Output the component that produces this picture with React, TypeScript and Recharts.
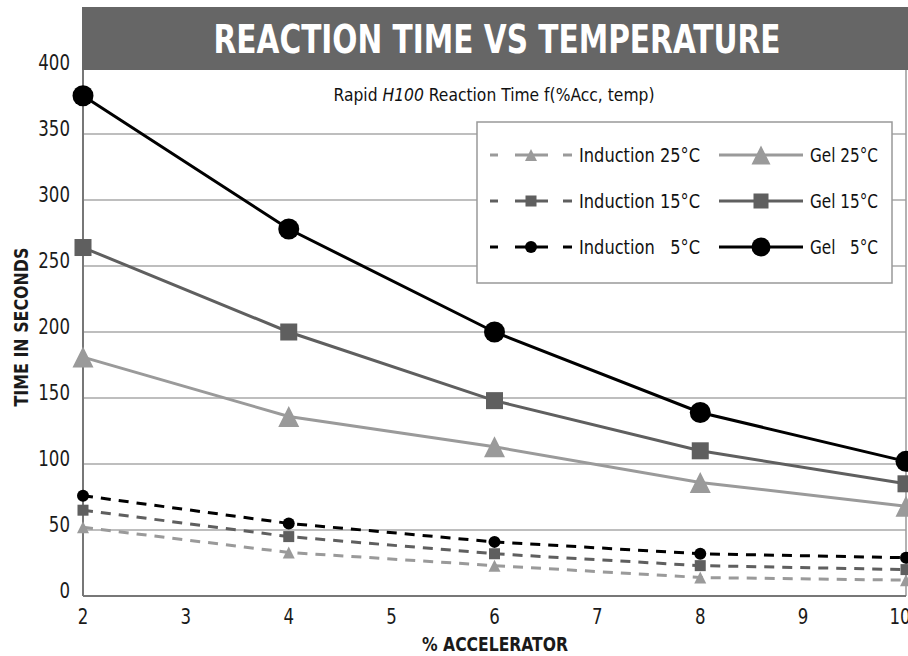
import React from 'react';
import { LineChart, Line, XAxis, YAxis, CartesianGrid, ReferenceLine } from 'recharts';

// % accelerator on the x axis
const accel = [2, 4, 6, 8, 10];

// reaction times in seconds
const ind25 = [52, 33, 23, 14, 12];
const gel25 = [181, 136, 113, 86, 68];
const ind15 = [65, 45, 32, 23, 20];
const gel15 = [264, 200, 148, 110, 85];
const ind5 = [76, 55, 41, 32, 29];
const gel5 = [379, 278, 200, 139, 102];

const xTicks = [2, 3, 4, 5, 6, 7, 8, 9, 10];
const yTicks = [0, 50, 100, 150, 200, 250, 300, 350, 400];

const LIGHT = '#9a9a9a';
const MID = '#5f5f5f';
const DARK = '#000000';
const INK = '#1a1a1a';
// no narrow font installed, so condensed DejaVu gets squeezed a bit more where needed
const NARROW = '"Liberation Sans Narrow", "DejaVu Sans Condensed", sans-serif';

type Shape = 'triangle' | 'square' | 'circle';

const series: {
  key: string;
  name: string;
  color: string;
  dashed: boolean;
  shape: Shape;
  size: number;
  legendWidth: number;
}[] = [
  { key: 'ind25', name: 'Induction 25°C', color: LIGHT, dashed: true, shape: 'triangle', size: 12, legendWidth: 121 },
  { key: 'gel25', name: 'Gel 25°C', color: LIGHT, dashed: false, shape: 'triangle', size: 21, legendWidth: 68 },
  { key: 'ind15', name: 'Induction 15°C', color: MID, dashed: true, shape: 'square', size: 11, legendWidth: 121 },
  { key: 'gel15', name: 'Gel 15°C', color: MID, dashed: false, shape: 'square', size: 17, legendWidth: 68 },
  { key: 'ind5', name: 'Induction   5°C', color: DARK, dashed: true, shape: 'circle', size: 12, legendWidth: 121 },
  { key: 'gel5', name: 'Gel   5°C', color: DARK, dashed: false, shape: 'circle', size: 21, legendWidth: 68 },
];

const data = accel.map((a, i) => ({
  accel: a,
  ind25: ind25[i],
  gel25: gel25[i],
  ind15: ind15[i],
  gel15: gel15[i],
  ind5: ind5[i],
  gel5: gel5[i],
}));

function Marker({ shape, cx, cy, size, color }: { shape: Shape; cx: number; cy: number; size: number; color: string }) {
  if (cx == null || cy == null) return null;
  const h = size / 2;
  if (shape === 'circle') return <circle cx={cx} cy={cy} r={h} fill={color} />;
  if (shape === 'square') return <rect x={cx - h} y={cy - h} width={size} height={size} fill={color} />;
  return <polygon points={`${cx},${cy - h} ${cx - h},${cy + h} ${cx + h},${cy + h}`} fill={color} />;
}

function NarrowTick({ x, y, payload, anchor, dy }: any) {
  return (
    <g transform={`translate(${x},${y}) scale(0.84,1)`}>
      <text x={0} y={0} dy={dy} textAnchor={anchor} fontSize={22} fill={INK} fontFamily={NARROW}>
        {payload.value}
      </text>
    </g>
  );
}

function Overlay() {
  const rows = [155, 201, 247];
  return (
    <svg width={908} height={656} style={{ position: 'absolute', left: 0, top: 0, pointerEvents: 'none' }}>
      {/* title bar */}
      <rect x={82} y={7} width={826} height={63} fill="#666666" />
      <text
        x={497}
        y={53}
        textAnchor="middle"
        fill="#ffffff"
        fontFamily={NARROW}
        fontWeight="bold"
        fontSize={39}
        textLength={567}
        lengthAdjust="spacingAndGlyphs"
      >
        REACTION TIME VS TEMPERATURE
      </text>
      <text
        x={494}
        y={101}
        textAnchor="middle"
        fill="#111"
        fontFamily={NARROW}
        fontSize={18}
        textLength={321}
        lengthAdjust="spacingAndGlyphs"
      >
        Rapid <tspan fontStyle="italic">H100</tspan> Reaction Time f(%Acc, temp)
      </text>

      {/* axis titles */}
      <text
        x={495}
        y={651}
        textAnchor="middle"
        fill={INK}
        fontFamily={NARROW}
        fontWeight="bold"
        fontSize={20}
        textLength={146}
        lengthAdjust="spacingAndGlyphs"
      >
        % ACCELERATOR
      </text>
      <text
        transform="translate(28,327) rotate(-90)"
        x={0}
        y={0}
        textAnchor="middle"
        fill={INK}
        fontFamily={NARROW}
        fontWeight="bold"
        fontSize={20}
        textLength={159}
        lengthAdjust="spacingAndGlyphs"
      >
        TIME IN SECONDS
      </text>

      {/* legend */}
      <rect x={477} y={122} width={415} height={161} fill="#ffffff" stroke="#999999" strokeWidth={1.5} />
      {series.map((s, i) => {
        const y = rows[Math.floor(i / 2)];
        const col = i % 2;
        const x0 = col === 0 ? 490 : 719;
        const x1 = col === 0 ? 572 : 803;
        const mid = (x0 + x1) / 2;
        return (
          <g key={s.key}>
            {s.dashed ? (
              <>
                <line x1={x0} y1={y} x2={x0 + 8} y2={y} stroke={s.color} strokeWidth={3} />
                <line x1={mid - 16} y1={y} x2={mid + 17} y2={y} stroke={s.color} strokeWidth={3} />
                <line x1={x1 - 9} y1={y} x2={x1} y2={y} stroke={s.color} strokeWidth={3} />
              </>
            ) : (
              <line x1={x0} y1={y} x2={x1} y2={y} stroke={s.color} strokeWidth={3} />
            )}
            <Marker shape={s.shape} cx={mid} cy={y} size={s.dashed ? s.size : s.size - 2} color={s.color} />
            <text
              x={col === 0 ? 579 : 810}
              y={y + 7}
              fill="#111"
              fontFamily={NARROW}
              fontSize={20}
              textLength={s.legendWidth}
              lengthAdjust="spacingAndGlyphs"
              style={{ whiteSpace: 'pre' }}
            >
              {s.name}
            </text>
          </g>
        );
      })}
    </svg>
  );
}

export default function App() {
  return (
    <div style={{ position: 'absolute', left: 0, top: 0, width: 908, height: 656, background: '#fff' }}>
      <LineChart width={908} height={656} data={data} margin={{ top: 68, right: 2, bottom: 0, left: 0 }}>
        <CartesianGrid vertical={false} stroke="#a8a8a8" strokeWidth={1.5} />
        <XAxis
          dataKey="accel"
          type="number"
          domain={[2, 10]}
          ticks={xTicks}
          height={60}
          tickLine={false}
          tickSize={0}
          tickMargin={0}
          axisLine={{ stroke: '#777', strokeWidth: 2 }}
          tick={(p: any) => <NarrowTick {...p} anchor="middle" dy={28} />}
        />
        <YAxis
          type="number"
          domain={[0, 400]}
          ticks={yTicks}
          width={83}
          tickLine={false}
          tickSize={0}
          tickMargin={13}
          axisLine={{ stroke: '#777', strokeWidth: 2 }}
          tick={(p: any) => <NarrowTick {...p} anchor="end" dy={2} />}
        />
        <ReferenceLine x={10} stroke="#999" strokeWidth={1.5} />
        {series.map((s) => (
          <Line
            key={s.key}
            dataKey={s.key}
            name={s.name}
            type="linear"
            stroke={s.color}
            strokeWidth={3}
            strokeDasharray={s.dashed ? '10 8' : undefined}
            isAnimationActive={false}
            activeDot={false}
            dot={(p: any) => (
              <Marker key={`${s.key}-${p.index}`} shape={s.shape} cx={p.cx} cy={p.cy} size={s.size} color={s.color} />
            )}
          />
        ))}
      </LineChart>
      <Overlay />
    </div>
  );
}
